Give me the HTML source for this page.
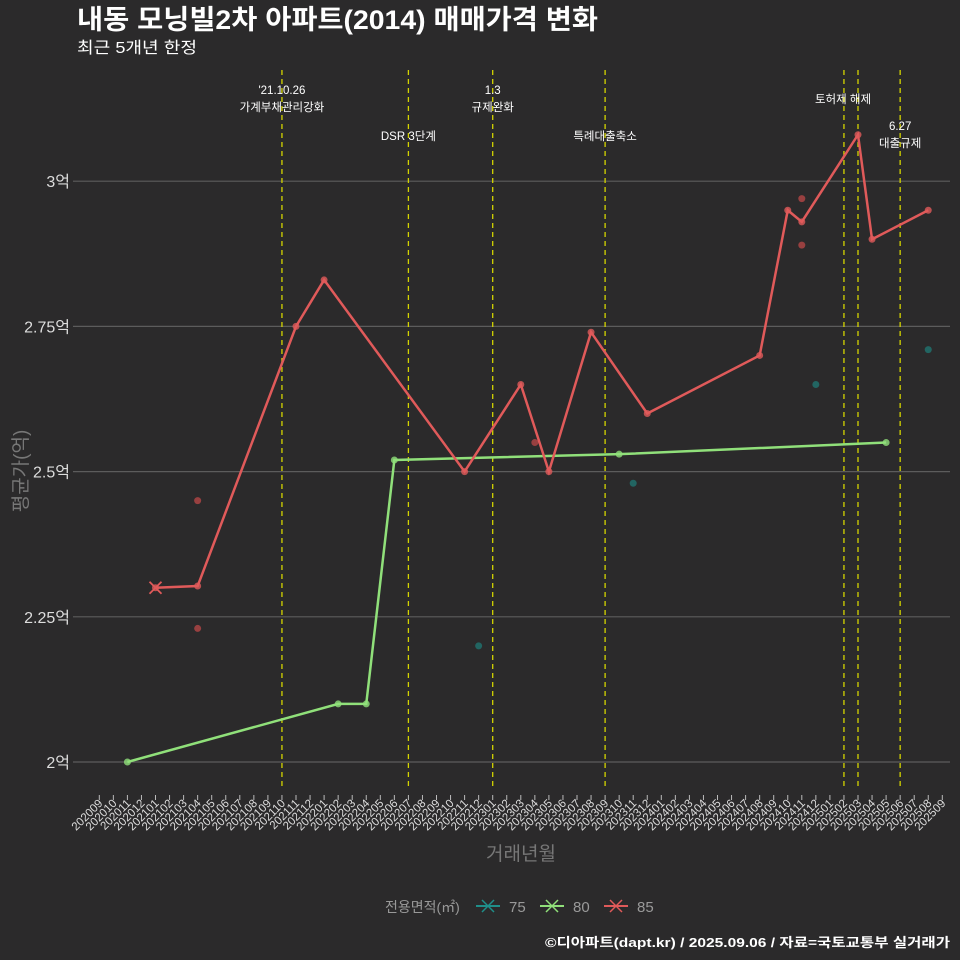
<!DOCTYPE html>
<html><head><meta charset="utf-8">
<style>
html,body{margin:0;padding:0;background:#2b2a2b;}
svg{display:block;font-family:"Liberation Sans","Noto Sans CJK KR",sans-serif;}
</style></head>
<body>
<svg id="chart" width="960" height="960" viewBox="0 0 960 960" xmlns="http://www.w3.org/2000/svg">
<rect width="960" height="960" fill="#2b2a2b"/>
<text x="77" y="29" fill="#ffffff" font-size="27" font-weight="bold" textLength="521" lengthAdjust="spacingAndGlyphs">내동 모닝빌2차 아파트(2014) 매매가격 변화</text>
<text x="77" y="53" fill="#ffffff" font-size="16" textLength="120" lengthAdjust="spacingAndGlyphs">최근 5개년 한정</text>
<g id="grid"></g><g id="events"></g><g id="series"></g><g id="xaxis"></g>
<text x="521" y="860" fill="#777" font-size="19" text-anchor="middle">거래년월</text>
<text transform="translate(27,471) rotate(-90)" fill="#777" font-size="19" text-anchor="middle">평균가(억)</text>
<g>
<text x="385" y="912" fill="#999" font-size="14">전용면적(㎡)</text>
<g><line x1="476" y1="906" x2="500" y2="906" stroke="#1f8f8a" stroke-width="2"/><path d="M482 900l12 12M494 900l-12 12" stroke="#1f8f8a" stroke-width="1.5"/><text x="509" y="912" fill="#999" font-size="15">75</text></g>
<g><line x1="540" y1="906" x2="564" y2="906" stroke="#90e07a" stroke-width="2"/><path d="M546 900l12 12M558 900l-12 12" stroke="#90e07a" stroke-width="1.5"/><text x="573" y="912" fill="#999" font-size="15">80</text></g>
<g><line x1="604" y1="906" x2="628" y2="906" stroke="#e05a5a" stroke-width="2"/><path d="M610 900l12 12M622 900l-12 12" stroke="#e05a5a" stroke-width="1.5"/><text x="637" y="912" fill="#999" font-size="15">85</text></g>
</g>
<text x="950" y="947" fill="#ffffff" font-size="13" font-weight="bold" text-anchor="end" textLength="405" lengthAdjust="spacingAndGlyphs">©디아파트(dapt.kr) / 2025.09.06 / 자료=국토교통부 실거래가</text>
</svg>
<script>
const months=[];for(let y=2020,m=9;!(y===2025&&m===10);){months.push(''+y+(m<10?'0':'')+m);m++;if(m>12){m=1;y++;}}
const yTicks=[2,2.25,2.5,2.75,3];
const yTickLabels=['2억','2.25억','2.5억','2.75억','3억'];
const s85Months=['202101','202104','202111','202201','202211','202303','202305','202308','202312','202408','202410','202411','202503','202504','202508'];
const s85Values=[2.3,2.303,2.75,2.83,2.5,2.65,2.5,2.74,2.6,2.7,2.95,2.93,3.08,2.9,2.95];
const s80Months=['202011','202202','202204','202206','202310','202505'];
const s80Values=[2.0,2.1,2.1,2.52,2.53,2.55];
const dots85Months=['202104','202104','202304','202411','202411'];
const dots85Values=[2.45,2.23,2.55,2.97,2.89];
const dots75Months=['202212','202311','202412','202508'];
const dots75Values=[2.2,2.48,2.65,2.71];
const eventMonths=['202110','202207','202301','202309','202502','202503','202506'];
const eventLabels=[["'21.10.26","가계부채관리강화"],["DSR 3단계"],["1.3","규제완화"],["특례대출축소"],[],["토허제 해제"],["6.27","대출규제"]];
const eventLabelY=[94,140,94,140,0,103,130];
const NS='http://www.w3.org/2000/svg';
const x=m=>99.3+months.indexOf(m)*14.05;
const y=v=>762-(v-2)*580.8;
function mk(t,a,p){const e=document.createElementNS(NS,t);for(const k in a)e.setAttribute(k,a[k]);p.appendChild(e);return e;}
const grid=document.getElementById('grid');
yTicks.forEach((v,i)=>{
 const l=mk('line',{x1:73,x2:950,y1:y(v),y2:y(v),stroke:'#5c5c5c','stroke-width':1.2},grid);
 
 
 const t=mk('text',{x:70,y:y(v)+6,fill:'#ddd','font-size':16,'text-anchor':'end'},grid);
 
 
 t.textContent=yTickLabels[i];
});
const ev=document.getElementById('events');
eventMonths.forEach((m,i)=>{
 const l=mk('line',{x1:x(m),x2:x(m),y1:70,y2:790,stroke:'#d4d400','stroke-width':1.3,'stroke-dasharray':'5,4'},ev);
 
 
 eventLabels[i].forEach((s,j)=>{
  const t=mk('text',{x:x(m)-(m==='202503'?15:0),y:eventLabelY[i]+j*17,fill:'#fff','font-size':11.5,'text-anchor':'middle'},ev);
  
  
  t.textContent=s;
 });
});
const xa=document.getElementById('xaxis');
months.forEach(m=>{
 const tk=mk('line',{x1:x(m),x2:x(m),y1:795,y2:800,stroke:'#bbb'},xa);
 
 
 const t=mk('text',{transform:`translate(${x(m)+4},804) rotate(-45)`,fill:'#ddd','font-size':11.5,'text-anchor':'end'},xa);
 
 
 t.textContent=m;
});
const se=document.getElementById('series');
function line(ms,vs,c,name){
 const p=mk('polyline',{points:ms.map((m,i)=>x(m)+','+y(vs[i])).join(' '),fill:'none',stroke:c,'stroke-width':2.5},se);
 
 
 ms.forEach((m,i)=>{const d=mk('circle',{cx:x(m),cy:y(vs[i]),r:3.5,fill:c,opacity:0.8},se);
  
  });
}
function dots(ms,vs,c,name){
 ms.forEach((m,i)=>{const d=mk('circle',{cx:x(m),cy:y(vs[i]),r:3.5,fill:c,opacity:0.7},se);
  
  });
}
dots(dots75Months,dots75Values,'#1f7f7a','point-75');
line(s80Months,s80Values,'#90e07a','line-80');
dots(dots85Months,dots85Values,'#c84a4a','point-85');
line(s85Months,s85Values,'#e05a5a','line-85');
const cx=x(s85Months[0]),cy=y(s85Values[0]);
const xm=mk('path',{d:`M${cx-6} ${cy-6}l12 12M${cx+6} ${cy-6}l-12 12`,stroke:'#e05a5a','stroke-width':1.8},se);


</script>
</body></html>
